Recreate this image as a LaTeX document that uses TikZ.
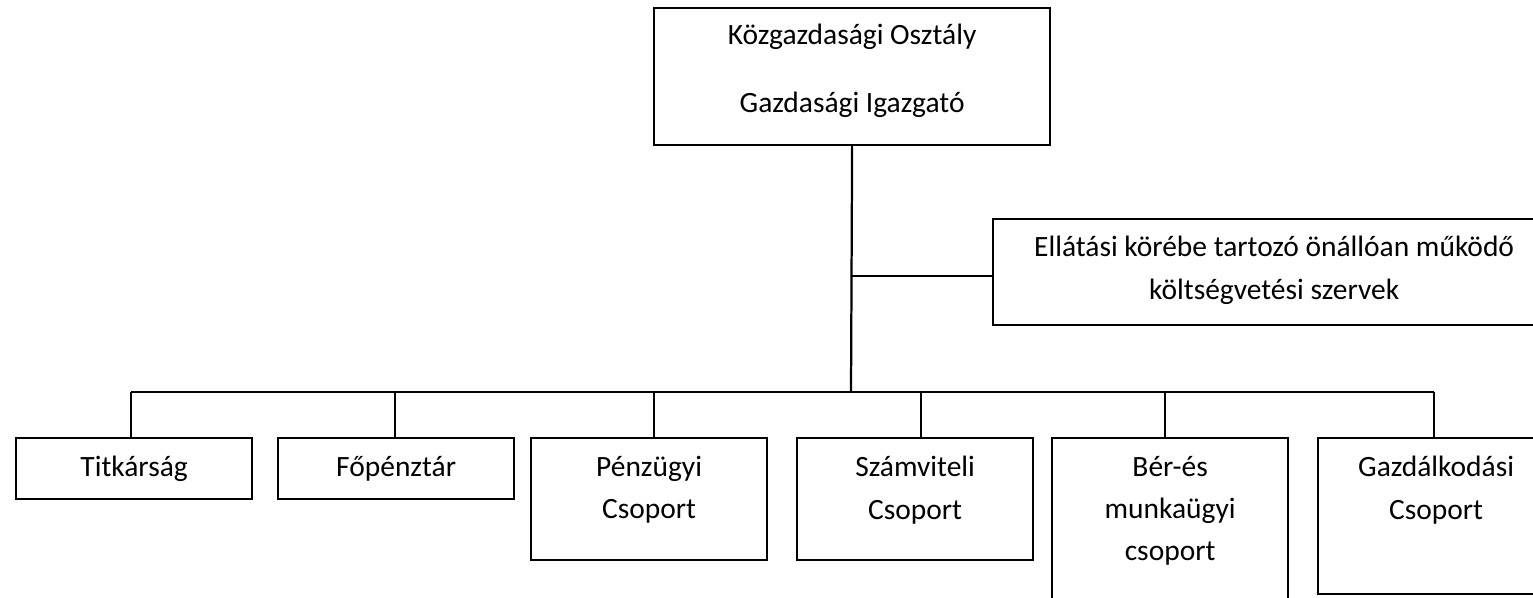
\documentclass[tikz,border=0pt]{standalone}
\usepackage{fontspec}
\setmainfont{Carlito}
\usetikzlibrary{calc}
\tikzset{
  unit/.style={draw, line width=0.85pt, inner sep=0pt, anchor=north west},
  caption/.style={anchor=north, align=center, inner sep=0pt, font=\fontsize{11.2}{16}\selectfont},
  link/.style={line width=0.85pt}
}
\begin{document}
\begin{tikzpicture}[x=0.38pt, y=-0.38pt]
  \useasboundingbox (0,0) rectangle (1533,598);
  \clip (0,0) rectangle (1533,598);
  % vezeto
  \node[unit, minimum width={396*0.38pt}, minimum height={137*0.38pt}] (top) at (653,7) {};
  \node[caption] (top-t) at ($(top.north)+(0,17)$) {Közgazdasági Osztály\\[9.5pt]Gazdasági Igazgató};
  % oldalag
  \node[unit, minimum width={562*0.38pt}, minimum height={106*0.38pt}] (side) at (992,218) {};
  \node[caption] (side-t) at ($(side.north)+(0,18)$) {Ellátási körébe tartozó önállóan működő\\költségvetési szervek};
  \coordinate (hub) at (851,392);
  \coordinate (fork) at (851,276);
  \draw[link] (top.south) -- (hub);
  \draw[link] (fork) -- (fork -| side.west);
  % csoportok
  \foreach \nm/\xl/\xr/\yb/\cx/\txt in {titk/15/251/498/131/Titkárság,
                                        fop/277/513/498/395/Főpénztár,
                                        penz/530/766/559/654/{Pénzügyi\\Csoport},
                                        szam/796/1032/559/921/{Számviteli\\Csoport},
                                        ber/1051/1287/640/1165/{Bér-és\\munkaügyi\\csoport},
                                        gazd/1317/1553/593/1434/{Gazdálkodási\\Csoport}} {
    \node[unit, minimum width={(\xr-\xl)*0.38pt}, minimum height={(\yb-437)*0.38pt}] (\nm) at (\xl,437) {};
    \node[caption] (\nm-t) at ($(\nm.north)+(0,19)$) {\txt};
    \coordinate (\nm-j) at (\cx,392);
    \draw[link] (\nm-j) -- (\nm-j |- \nm.north);
  }
  \draw[link] (titk-j) -- (gazd-j);
\end{tikzpicture}
\end{document}
